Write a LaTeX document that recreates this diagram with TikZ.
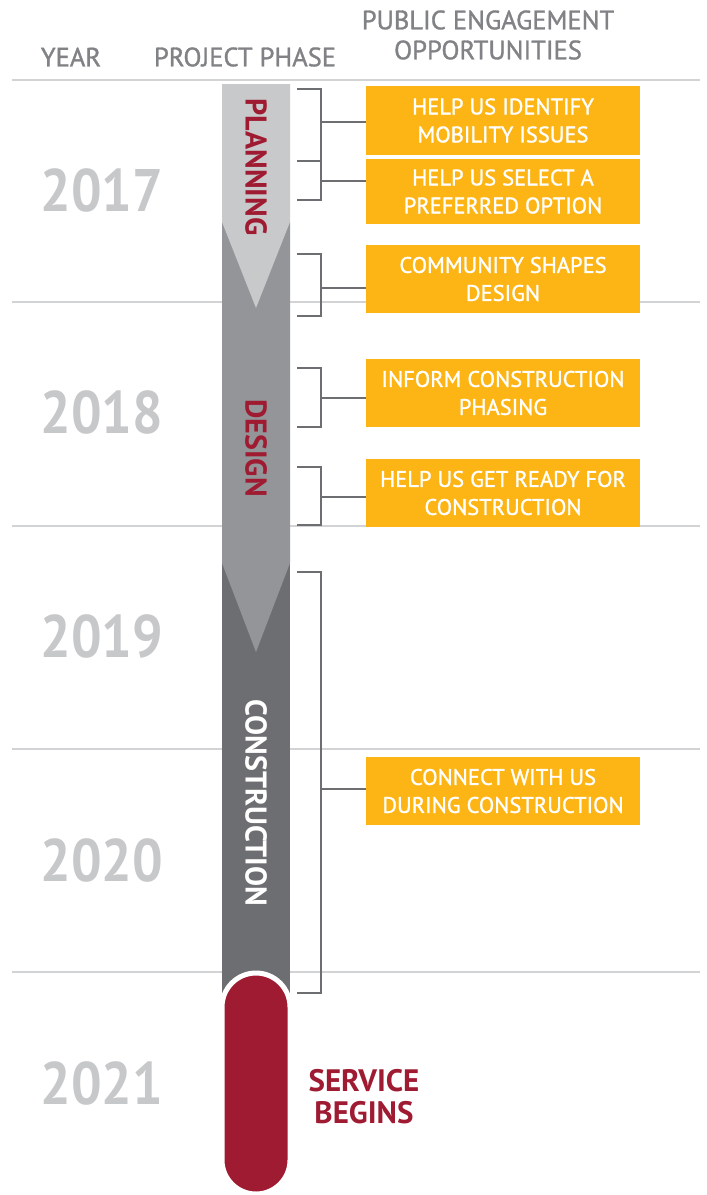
\documentclass[tikz,border=0pt]{standalone}
\usepackage{fontspec}
\setmainfont{PT Sans}
\newfontfamily\narrowfont{PT Sans}[FakeStretch=0.9]
\newfontfamily\mediumfont{PT Sans}[FakeBold=1.2]

\definecolor{planninggray}{HTML}{C8C9CB}
\definecolor{designgray}{HTML}{939598}
\definecolor{buildgray}{HTML}{6D6E71}
\definecolor{servicered}{HTML}{9E1B32}
\definecolor{oppyellow}{HTML}{FDB515}
\definecolor{yeargray}{HTML}{C7C8CA}
\definecolor{rulegray}{HTML}{D1D3D4}
\definecolor{headgray}{HTML}{808285}

\begin{document}
\begin{tikzpicture}[x=1pt, y=-1pt,
	opp/.style={fill=oppyellow, text=white, minimum width=274pt, minimum height=68pt, inner sep=0pt, align=center, font=\mediumfont\fontsize{22.5}{28}\selectfont},
	yearlabel/.style={text=yeargray, font=\narrowfont\fontsize{60}{60}\selectfont\bfseries},
	head/.style={text=headgray, align=center, font=\mediumfont\fontsize{26.5}{30}\selectfont},
	bracket/.style={draw=buildgray, line width=2.5pt},
	rule/.style={draw=rulegray, line width=1.8pt},
	phaselabel/.style={rotate=-90, font=\fontsize{30}{30}\selectfont\bfseries}]
	\useasboundingbox (0, 0) rectangle (707, 1195);
	
	% header
	\node[head] (hyear) at (71, 57) {YEAR};
	\node[head] (hphase) at (245, 57) {PROJECT PHASE};
	\node[head] (hopp) at (488, 35) {PUBLIC ENGAGEMENT\\OPPORTUNITIES};
	
	% year rules
	\foreach \y in {80, 302, 526, 749, 972}
		\draw[rule] (12, \y) -- (700, \y);
	
	% years
	\node[yearlabel] (y2017) at (102, 190) {2017};
	\node[yearlabel] (y2018) at (102, 412) {2018};
	\node[yearlabel] (y2019) at (102, 636) {2019};
	\node[yearlabel] (y2020) at (102, 860) {2020};
	\node[yearlabel] (y2021) at (102, 1083) {2021};
	
	% phase column
	\fill[buildgray] (222, 563) rectangle (290, 1010);
	\fill[designgray] (222, 222) -- (290, 222) -- (290, 563) -- (256, 652) -- (222, 563) -- cycle;
	\fill[planninggray] (222, 84) -- (290, 84) -- (290, 222) -- (256, 308) -- (222, 222) -- cycle;
	\filldraw[fill=servicered, draw=white, line width=5pt, rounded corners=34pt] (222, 973) rectangle (290, 1194);
	
	\node[phaselabel, text=servicered] (planning) at (256, 167) {PLANNING};
	\node[phaselabel, text=servicered] (design) at (256, 448) {DESIGN};
	\node[phaselabel, text=white] (construction) at (256, 803) {CONSTRUCTION};
	\node[text=servicered, align=center, font=\fontsize{31}{32}\selectfont\bfseries] (service) at (364, 1097) {SERVICE\\BEGINS};
	
	% opportunities
	\node[opp, minimum height=69pt] (o1) at (503, 120.5) {HELP US IDENTIFY\\MOBILITY ISSUES};
	\node[opp, minimum height=65pt] (o2) at (503, 191.5) {HELP US SELECT A\\PREFERRED OPTION};
	\node[opp] (o3) at (503, 279) {COMMUNITY SHAPES\\DESIGN};
	\node[opp] (o4) at (503, 393) {INFORM CONSTRUCTION\\PHASING};
	\node[opp] (o5) at (503, 493) {HELP US GET READY FOR\\CONSTRUCTION};
	\node[opp] (o6) at (503, 791) {CONNECT WITH US\\DURING CONSTRUCTION};
	
	% brackets
	\coordinate (s1) at (321, 122);
	\coordinate (s2) at (321, 181);
	\coordinate (s3) at (321, 288);
	\coordinate (s4) at (321, 398);
	\coordinate (s5) at (321, 497);
	\coordinate (s6) at (321, 789);
	
	\draw[bracket] (297, 89) -- (321, 89) -- (321, 200) -- (297, 200);
	\draw[bracket] (297, 161) -- (321, 161);
	\draw[bracket] (297, 254) -- (321, 254) -- (321, 316) -- (297, 316);
	\draw[bracket] (297, 368) -- (321, 368) -- (321, 427) -- (297, 427);
	\draw[bracket] (297, 467) -- (321, 467) -- (321, 525) -- (297, 525);
	\draw[bracket] (297, 572) -- (321, 572) -- (321, 993) -- (297, 993);
	
	\draw[bracket] (s1) -- (s1 -| o1.west);
	\draw[bracket] (s2) -- (s2 -| o2.west);
	\draw[bracket] (s3) -- (s3 -| o3.west);
	\draw[bracket] (s4) -- (s4 -| o4.west);
	\draw[bracket] (s5) -- (s5 -| o5.west);
	\draw[bracket] (s6) -- (s6 -| o6.west);
\end{tikzpicture}
\end{document}
